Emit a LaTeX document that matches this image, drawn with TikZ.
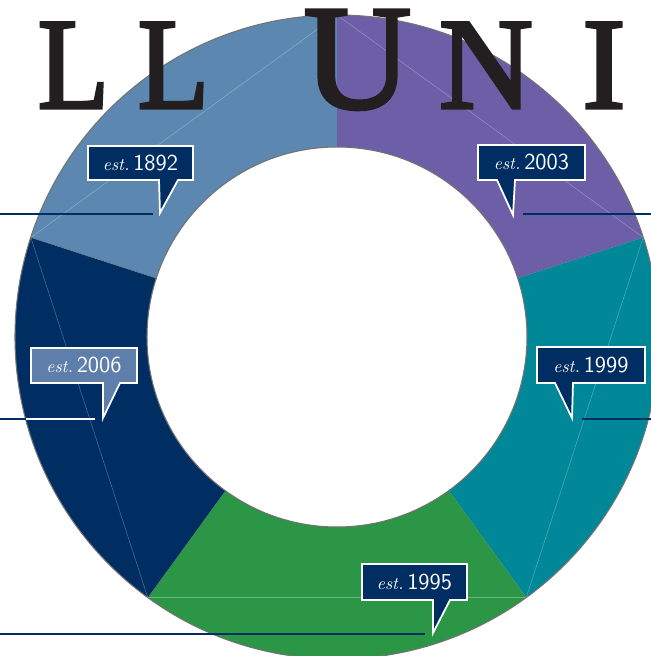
\documentclass[tikz,border=0pt]{standalone}
\usepackage{fontspec}
\newfontfamily\titlefont{Liberation Serif}[FakeBold=2.5]
\definecolor{ringblue}{HTML}{5B87B0}
\definecolor{ringpurple}{HTML}{6D5EA8}
\definecolor{ringteal}{HTML}{008898}
\definecolor{ringgreen}{HTML}{2A9646}
\definecolor{ringnavy}{HTML}{002E63}
\definecolor{boxblue}{HTML}{5E7FAB}
\definecolor{capblack}{HTML}{231F20}
\newcommand\estmark{{\rmfamily\itshape\fontsize{10}{10}\selectfont est.}\,}
\begin{document}
\begin{tikzpicture}[x=0.02cm,y=0.02cm,
  leader/.style={draw=ringnavy, line width=1.1pt},
  bubble/.style={draw=white, line width=1pt, fill=ringnavy, line join=miter},
  esttext/.style={text=white, inner sep=0pt, font=\fontsize{13}{13}\selectfont\sffamily},
  bigcap/.style={inner sep=0pt, anchor=base, text=capblack, font=\titlefont\fontsize{74}{74}\selectfont}]
\useasboundingbox (0,0) rectangle (651,656);
\fill[white] (0,0) rectangle (651,656);

\begin{scope}[shift={(337,319)}]
\foreach \a/\col in {90/ringblue,18/ringpurple,-54/ringteal,-126/ringgreen,162/ringnavy}{
  \fill[\col] (\a:322) arc (\a:\a+72:322) -- (\a+72:190) arc (\a+72:\a:190) -- cycle;
  \draw[white, opacity=.3, line width=.3pt] (\a:322) -- (\a+72:322);
  \draw[black!50, opacity=.5, line width=.4pt] (\a:190) -- (\a:322);
}
\draw[black!55, line width=.6pt] (0,0) circle (322) (0,0) circle (190);
\end{scope}

\node[bigcap, xscale=.9] (capL1) at (73.5,548) {L};
\node[bigcap, xscale=.9] (capL2) at (173.5,548) {L};
\node[bigcap, font=\titlefont\fontsize{85}{85}\selectfont] (capU) at (357.5,548) {U};
\node[bigcap] (capN) at (486,548) {N};
\node[bigcap] (capI) at (604,548) {I};

\draw[bubble] (88,476) -- (159,476) -- (160,443) -- (178,476) -- (193,476) -- (193,510) -- (88,510) -- cycle;
\node[esttext] (est1892) at (140.5,493) {\estmark1892};
\coordinate (l1892) at (0,442);
\coordinate (e1892) at (153,442);
\draw[leader] (l1892) -- (e1892);

\draw[bubble] (478,476) -- (497,476) -- (513,441) -- (515,476) -- (585,476) -- (585,511) -- (478,511) -- cycle;
\node[esttext] (est2003) at (531.5,493.5) {\estmark2003};
\coordinate (e2003) at (523,442);
\coordinate (r2003) at (651,442);
\draw[leader] (e2003) -- (r2003);

\draw[bubble, fill=boxblue] (31,273) -- (103,273) -- (103,238) -- (120,273) -- (137,273) -- (137,308) -- (31,308) -- cycle;
\node[esttext] (est2006) at (84,290.5) {\estmark2006};
\coordinate (l2006) at (0,237);
\coordinate (r2006) at (25.6,237);
\coordinate (e2006) at (95,237);
\draw[leader] (l2006) -- (r2006);
\draw[leader, draw=white] (r2006) -- (e2006);

\draw[bubble] (537,273) -- (555,273) -- (572,238) -- (573,273) -- (645,273) -- (645,309) -- (537,309) -- cycle;
\node[esttext] (est1999) at (591,291) {\estmark1999};
\coordinate (e1999) at (582,237);
\coordinate (r1999) at (651,237);
\draw[leader] (e1999) -- (r1999);

\draw[bubble] (362,56) -- (433,56) -- (433,23) -- (450,56) -- (467,56) -- (467,92) -- (362,92) -- cycle;
\node[esttext] (est1995) at (414.5,74) {\estmark1995};
\coordinate (l1995) at (0,22);
\coordinate (e1995) at (425,22);
\draw[leader] (l1995) -- (e1995);
\end{tikzpicture}
\end{document}
